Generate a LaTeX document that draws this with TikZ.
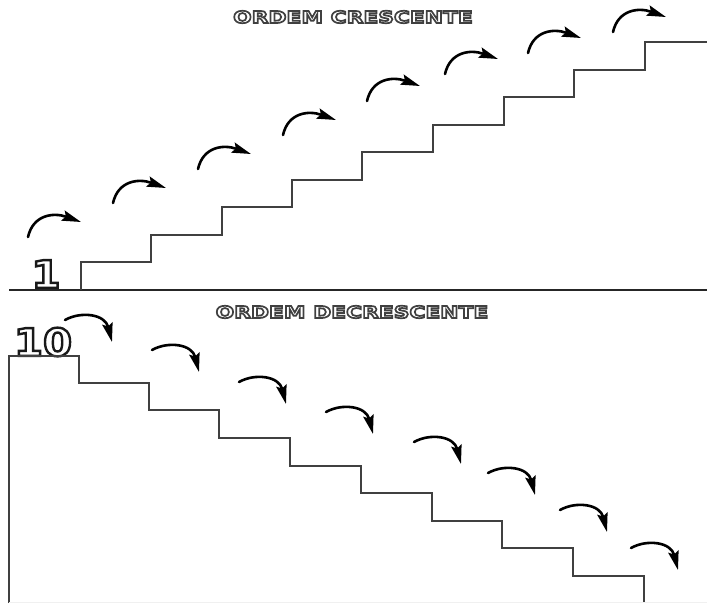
\documentclass[tikz,border=0pt]{standalone}
\usepackage{fontspec}
\usetikzlibrary{arrows.meta}
\newfontfamily\titlefont[FakeStretch=1.32]{DejaVu Sans}
\newfontfamily\numfont[FakeStretch=1.1]{DejaVu Sans}
\tikzset{
	stair/.style={line width=1.3pt, color=black!75},
	jump/.style={line width=2.6pt, line cap=round, -{Stealth[length=19pt,width=10.5pt,inset=3pt]}},
	titletext/.style={inner sep=0pt, text=white, font=\titlefont\bfseries\fontsize{16.5}{16.5}\selectfont},
	numtext/.style={inner sep=0pt, text=white, font=\numfont\bfseries\fontsize{38}{38}\selectfont}
}
\def\upjump(#1,#2){\draw[jump,shift={(#1,#2)}] (0,0) .. controls (5,-22) and (25,-25) .. (53,-15);}
\def\downjump(#1,#2){\draw[jump,shift={(#1,#2)}] (0,0) .. controls (16,-9) and (40,-6) .. (47,22);}
\def\outlined#1#2#3{\special{pdf:literal direct #1 G 2 Tr #2 w}#3\special{pdf:literal direct 0 Tr}}

\begin{document}
\begin{tikzpicture}[x=1pt, y=-1pt]
			%%%%% START %%%%%
			\useasboundingbox (0,0) rectangle (707,603);
			
			% ordem crescente
			\node[titletext] (upTitle) at (353,17) {\outlined{0.25}{1.7}{ORDEM CRESCENTE}};
			\node[numtext] (upNum) at (46,274) {\outlined{0.1}{2.4}{1}};
			
			\draw[line width=1.6pt, color=black!85] (9,290) -- (707,290);
			\draw[stair] (81,290) -- (81,262) -- (151,262) -- (151,235) -- (222,235) -- (222,207)
				-- (292,207) -- (292,180) -- (362,180) -- (362,152) -- (433,152) -- (433,125)
				-- (504,125) -- (504,97) -- (574,97) -- (574,70) -- (645,70) -- (645,42) -- (707,42);
			
			\upjump(28,237)
			\upjump(113,203)
			\upjump(198,169)
			\upjump(283,135)
			\upjump(367,101)
			\upjump(445,74)
			\upjump(528,53)
			\upjump(613,32)
			
			% ordem decrescente
			\node[titletext] (downTitle) at (352,312) {\outlined{0.25}{1.7}{ORDEM DECRESCENTE}};
			\node[numtext] (downNum) at (43,342) {\outlined{0.1}{2.4}{10}};
			
			\draw[stair] (9,603) -- (9,356) -- (79,356) -- (79,383) -- (149,383) -- (149,410)
				-- (219,410) -- (219,438) -- (290,438) -- (290,466) -- (361,466) -- (361,493)
				-- (432,493) -- (432,521) -- (502,521) -- (502,548) -- (573,548) -- (573,576)
				-- (644,576) -- (644,603);
			\draw[line width=0.8pt, color=black!6] (9,602) -- (707,602);
			
			\downjump(65,320)
			\downjump(152,350)
			\downjump(239,382)
			\downjump(326,412)
			\downjump(414,442)
			\downjump(488,473)
			\downjump(560,510)
			\downjump(631,548)
			
			%%%%% END %%%%%
\end{tikzpicture}
\end{document}
